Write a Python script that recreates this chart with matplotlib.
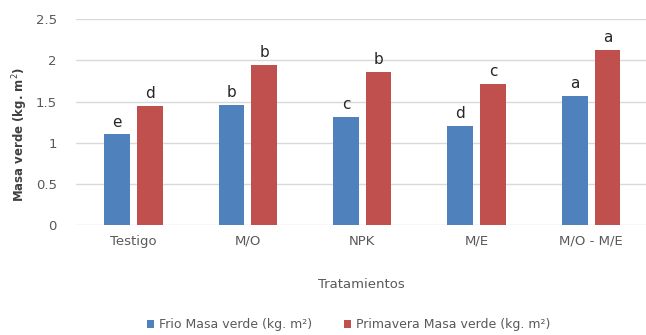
import matplotlib

matplotlib.use("Agg")

import matplotlib.pyplot as plt
import numpy as np


BLUE = "#4F81BD"
RED = "#C0504D"
GRID = "#D9D9D9"
TXT = "#595959"

categories = ["Testigo", "M/O", "NPK", "M/E", "M/O - M/E"]
frio = [1.10, 1.46, 1.31, 1.20, 1.57]
primavera = [1.45, 1.94, 1.86, 1.71, 2.13]
frio_letters = ["e", "b", "c", "d", "a"]
primavera_letters = ["d", "b", "b", "c", "a"]

plt.rcParams.update({"font.family": "DejaVu Sans"})

fig = plt.figure(figsize=(6.46, 3.35), dpi=100)
ax = fig.add_axes([0.118, 0.328, 0.882, 0.615])

x = np.arange(len(categories))
w = 0.225
off = 0.143
b1 = ax.bar(x - off, frio, width=w, color=BLUE, label="Frio Masa verde (kg. m²)", zorder=3)
b2 = ax.bar(x + off, primavera, width=w, color=RED, label="Primavera Masa verde (kg. m²)", zorder=3)

for bars, letters in [(b1, frio_letters), (b2, primavera_letters)]:
    for bar, let in zip(bars, letters):
        ax.text(bar.get_x() + bar.get_width() / 2, bar.get_height() + 0.06, let,
                ha="center", va="bottom", fontsize=11, color="#262626")

ax.set_ylim(0, 2.5)
ax.set_xlim(-0.5, 4.48)
ax.set_yticks([0, 0.5, 1, 1.5, 2, 2.5], ["0", "0.5", "1", "1.5", "2", "2.5"])
ax.set_xticks(x, categories)
ax.tick_params(axis="both", length=0, colors=TXT, labelsize=9.5)
ax.tick_params(axis="x", pad=7)
ax.tick_params(axis="y", pad=14)
for s in ax.spines.values():
    s.set_visible(False)
ax.grid(axis="y", color=GRID, linewidth=1, zorder=0)

ax.set_xlabel("Tratamientos", fontsize=9.5, color=TXT, labelpad=22)
fig.text(0.032, 0.6, "Masa verde (kg. m$^2$)", rotation=90, ha="center", va="center",
         fontsize=8.5, fontweight="bold", color="#404040")

fig.legend(loc="center", bbox_to_anchor=(0.54, 0.03), ncol=2, frameon=False,
           fontsize=9, labelcolor=TXT, handlelength=0.6, handleheight=0.6,
           handletextpad=0.4, columnspacing=2.5)

fig.savefig("out.png", dpi=100)
